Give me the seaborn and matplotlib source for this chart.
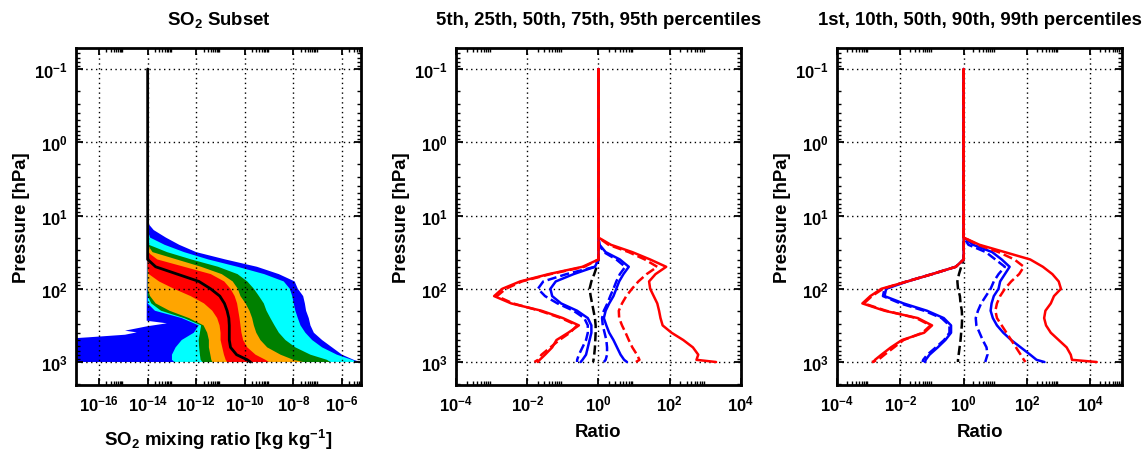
import numpy as np
import pandas as pd
import matplotlib
matplotlib.use("Agg")
import matplotlib.pyplot as plt
from matplotlib.ticker import FixedLocator, FuncFormatter
import seaborn as sns

# Pressure levels [hPa] shared by all profiles
plev = [0.1, 12.6, 15.8, 20.0, 25.1, 31.6, 39.8, 50.1, 63.1, 79.4, 100.0,
        125.9, 158.5, 199.5, 251.2, 316.2, 398.1, 501.2, 631.0, 794.3, 933.3, 1000.0]

# ---- SO2 subset: percentile envelopes, log10 of mixing ratio [kg/kg] ----
blue_hi = [-14.0, -14.0, -13.75, -13.25, -12.7, -12.0, -10.8, -9.5, -8.6, -7.95, -7.82,
           -7.60, -7.53, -7.48, -7.37, -7.30, -7.16, -6.82, -6.41, -6.0, -5.52, -5.25]
cyan_hi = [-14.0, -14.0, -14.0, -13.9, -13.3, -12.5, -11.5, -10.3, -9.2, -8.4, -8.15,
           -8.05, -7.99, -7.92, -7.82, -7.71, -7.51, -7.23, -6.82, -6.21, -5.59, -5.38]
green_hi = [-14.0, -14.0, -14.0, -14.0, -13.95, -13.2, -12.2, -11.1, -10.3, -9.9, -9.63,
            -9.42, -9.22, -9.11, -8.95, -8.78, -8.60, -8.33, -7.92, -7.30, -6.62, -6.48]
orange_hi = [-14.0, -14.0, -14.0, -14.0, -14.0, -13.8, -12.8, -11.8, -10.95, -10.5, -10.29,
             -10.18, -9.97, -9.81, -9.70, -9.63, -9.53, -9.36, -9.08, -8.53, -8.0, -7.6]
red_hi = [-14.0, -14.0, -14.0, -14.0, -14.0, -14.0, -13.6, -12.5, -11.4, -10.85, -10.59,
          -10.42, -10.32, -10.27, -10.22, -10.18, -10.14, -10.07, -9.90, -9.56, -9.15, -9.01]
so2_median = [-14.0, -14.0, -14.0, -14.0, -14.0, -14.0, -14.0, -13.67, -12.78, -11.89, -11.41,
              -11.03, -10.84, -10.73, -10.66, -10.64, -10.64, -10.64, -10.59, -10.34, -9.90, -9.77]
red_lo = [-14.0, -14.0, -14.0, -14.0, -14.0, -14.0, -14.0, -14.0, -13.95, -13.53, -12.92,
          -12.23, -11.68, -11.34, -11.14, -11.04, -11.0, -11.0, -10.93, -10.86, -10.79, -10.73]
orange_lo = [-14.0, -14.0, -14.0, -14.0, -14.0, -14.0, -14.0, -14.0, -14.0, -14.0, -14.0,
             -13.9, -13.67, -13.1, -12.3, -11.7, -11.55, -11.48, -11.48, -11.42, -11.38, -11.34]
green_lo = [-14.0, -14.0, -14.0, -14.0, -14.0, -14.0, -14.0, -14.0, -14.0, -14.0, -14.0,
            -14.0, -13.85, -13.45, -12.5, -11.8, -11.85, -11.9, -11.88, -11.85, -11.82, -11.75]
cyan_lo = [-14.0, -14.0, -14.0, -14.0, -14.0, -14.0, -14.0, -14.0, -14.0, -14.0, -14.0,
           -14.0, -14.0, -13.7, -12.6, -11.9, -12.1, -12.6, -12.85, -13.0, -13.0, -12.9]
# the outermost minimum has its own levels (sharp notch near 300 hPa)
blue_lo_p = [0.1, 273, 296, 326, 347, 373, 394, 424, 460, 485, 1000]
blue_lo = [-14.0, -14.04, -13.21, -14.04, -14.45, -14.93, -14.45, -14.93, -16.44, -17.5, -18.0]

# ---- 5th/25th/50th/75th/95th percentile ratios, log10 ----
a_p95 = [0, 0, 0, 0, 0.35, 0.95, 1.45, 1.9, 1.6, 1.42, 1.45, 1.55, 1.65, 1.7, 1.74, 1.8,
         2.05, 2.38, 2.65, 2.8, 2.75, 3.3]
a_p95_b = [0, 0, 0, 0, 0.28, 0.85, 1.3, 1.65, 1.35, 1.12, 0.94, 0.78, 0.66, 0.57, 0.58, 0.66,
           0.76, 0.85, 0.95, 1.08, 1.15, 1.05]
a_p75 = [0, 0, 0, 0, 0.03, 0.2, 0.6, 0.85, 0.7, 0.58, 0.5, 0.42, 0.3, 0.2, 0.15, 0.22,
         0.3, 0.42, 0.52, 0.62, 0.72, 0.8]
a_p75_b = [0, 0, 0, 0, 0.02, 0.15, 0.5, 0.75, 0.6, 0.5, 0.42, 0.33, 0.25, 0.15, 0.1, 0.12,
           0.17, 0.22, 0.24, 0.24, 0.2, 0.15]
a_p50_b = [0, 0, 0, 0, 0, 0, 0, -0.05, -0.12, -0.2, -0.25, -0.22, -0.18, -0.14, -0.1, -0.08,
           -0.08, -0.09, -0.1, -0.12, -0.14, -0.15]
a_p25 = [0, 0, 0, 0, 0, 0, 0, -0.1, -0.7, -1.2, -1.35, -1.3, -1.05, -0.6, -0.3, -0.2,
         -0.2, -0.25, -0.3, -0.35, -0.45, -0.5]
a_p25_b = [0, 0, 0, 0, 0, 0, 0, -0.1, -0.9, -1.55, -1.7, -1.5, -1.15, -0.7, -0.4, -0.3,
           -0.3, -0.35, -0.45, -0.55, -0.6, -0.6]
a_p05 = [0, 0, 0, 0, 0, 0, 0, -0.45, -1.4, -2.2, -2.7, -2.93, -2.45, -1.6, -1.0, -0.55,
         -0.85, -1.18, -1.3, -1.5, -1.65, -1.7]
a_p05_b = [0, 0, 0, 0, 0, 0, 0, -0.4, -1.35, -2.15, -2.6, -2.85, -2.4, -1.65, -1.05, -0.6,
           -0.8, -1.1, -1.35, -1.6, -1.7, -1.8]

# ---- 1st/10th/50th/90th/99th percentile ratios, log10 ----
b_p99 = [0, 0, 0, 0, 0.5, 1.3, 2.1, 2.5, 2.8, 3.0, 3.07, 2.85, 2.75, 2.58, 2.54, 2.6,
         2.75, 3.0, 3.25, 3.38, 3.42, 4.2]
b_p99_b = [0, 0, 0, 0, 0.45, 1.1, 1.6, 1.9, 1.75, 1.5, 1.3, 1.15, 1.05, 1.0, 1.05, 1.2,
           1.35, 1.5, 1.65, 1.8, 1.9, 1.95]
b_p90 = [0, 0, 0, 0, 0.3, 0.9, 1.2, 1.45, 1.3, 1.15, 1.1, 0.95, 0.88, 0.85, 0.92, 1.05,
         1.25, 1.5, 1.8, 2.1, 2.3, 2.55]
b_p90_b = [0, 0, 0, 0, 0.15, 0.7, 1.0, 1.3, 1.1, 0.95, 0.85, 0.7, 0.55, 0.45, 0.38, 0.4,
           0.5, 0.6, 0.72, 0.75, 0.7, 0.68]
b_p50_b = [0, 0, 0, 0, 0, 0, 0, -0.08, -0.15, -0.2, -0.18, -0.12, -0.1, -0.06, -0.05, -0.06,
           -0.08, -0.1, -0.13, -0.16, -0.18, -0.18]
b_p10 = [0, 0, 0, 0, 0, 0, 0, -0.25, -1.0, -1.78, -2.45, -2.5, -1.9, -1.16, -0.63, -0.4,
         -0.4, -0.58, -0.82, -1.08, -1.2, -1.22]
b_p10_b = [0, 0, 0, 0, 0, 0, 0, -0.25, -1.0, -1.8, -2.5, -2.55, -2.0, -1.25, -0.7, -0.45,
           -0.45, -0.62, -0.88, -1.15, -1.28, -1.3]
b_p01 = [0, 0, 0, 0, 0, 0, 0, -0.25, -1.0, -1.78, -2.6, -2.95, -3.2, -2.5, -1.45, -1.0,
         -1.25, -1.95, -2.3, -2.6, -2.8, -2.85]
b_p01_b = [0, 0, 0, 0, 0, 0, 0, -0.25, -1.0, -1.8, -2.55, -2.9, -3.15, -2.45, -1.5, -1.05,
           -1.3, -1.9, -2.2, -2.5, -2.7, -2.9]

titles = ["SO$_2$ Subset",
          "5th, 25th, 50th, 75th, 95th percentiles",
          "1st, 10th, 50th, 90th, 99th percentiles"]
xlabels = ["SO$_2$ mixing ratio [kg kg$^{-1}$]", "Ratio", "Ratio"]
ylabel = "Pressure [hPa]"

sns.set_theme(style="ticks")
plt.rcParams.update({
    "font.family": ["Liberation Sans", "DejaVu Sans"],
    "font.weight": "bold",
    "axes.labelweight": "bold",
    "axes.titleweight": "bold",
    "mathtext.fontset": "custom",
    "mathtext.rm": "Liberation Sans:bold",
    "mathtext.it": "Liberation Sans:bold",
    "mathtext.bf": "Liberation Sans:bold",
    "mathtext.sf": "Liberation Sans:bold",
    "axes.edgecolor": "black",
    "axes.linewidth": 2.0,
    "text.color": "black",
    "axes.labelcolor": "black",
    "xtick.color": "black",
    "ytick.color": "black",
})

fig = plt.figure(figsize=(11.46, 4.52), dpi=100)
lefts = [0.0663, 0.3979, 0.7304]
axes = [fig.add_axes([x0, 0.146, 0.2487, 0.7456]) for x0 in lefts]


def envelope(ax, p_lo, lo, p_hi, hi, color):
    xs = np.concatenate([10.0 ** np.asarray(hi), (10.0 ** np.asarray(lo))[::-1]])
    ys = np.concatenate([np.asarray(p_hi, float), np.asarray(p_lo, float)[::-1]])
    ax.fill(xs, ys, color=color, lw=0, zorder=2)


def profile(ax, logvals, color, ls="-", lw=1.8):
    df = pd.DataFrame({"value": 10.0 ** np.asarray(logvals, float), "pressure": plev})
    sns.lineplot(data=df, x="value", y="pressure", sort=False, estimator=None,
                 color=color, linestyle=ls, linewidth=lw, ax=ax, zorder=3)


def log_label(v, _pos):
    return rf"$10^{{{int(np.round(np.log10(v)))}}}$"


def style(ax, xexp, xlim, title, xlabel, xlabelpad):
    ax.set_xscale("log")
    ax.set_yscale("log")
    ax.set_xlim(*xlim)
    ax.set_ylim(2060, 0.0516)
    xmaj = [10.0 ** e for e in xexp]
    ax.xaxis.set_major_locator(FixedLocator(xmaj))
    ax.xaxis.set_minor_locator(FixedLocator([k * m for m in xmaj for k in range(2, 10)]))
    ymaj = [10.0 ** e for e in range(-2, 4)]
    ax.yaxis.set_major_locator(FixedLocator(ymaj))
    ax.yaxis.set_minor_locator(FixedLocator([k * m for m in ymaj for k in range(2, 10)]))
    ax.xaxis.set_major_formatter(FuncFormatter(log_label))
    ax.yaxis.set_major_formatter(FuncFormatter(log_label))
    ax.tick_params(which="both", direction="in", top=True, right=True,
                   labelsize=12, pad=6)
    ax.tick_params(which="major", length=5, width=1.3)
    ax.tick_params(which="minor", length=3, width=1.0)
    ax.grid(True, which="major", color="black", linestyle=(0, (1, 2.5)), linewidth=1.0)
    ax.set_axisbelow(False)
    for s in ax.spines.values():
        s.set_visible(True)
        s.set_linewidth(2.0)
        s.set_zorder(5)
    ax.set_title(title, fontsize=13.4, fontweight="bold", pad=17)
    ax.set_xlabel(xlabel, fontsize=13.4, fontweight="bold", labelpad=xlabelpad)
    ax.set_ylabel(ylabel, fontsize=13.4, fontweight="bold", labelpad=3)


# Panel 1: nested percentile envelopes and median
ax = axes[0]
envelope(ax, blue_lo_p, blue_lo, plev, blue_hi, "#0000ff")
envelope(ax, plev, cyan_lo, plev, cyan_hi, "#00ffff")
envelope(ax, plev, green_lo, plev, green_hi, "#008000")
envelope(ax, plev, orange_lo, plev, orange_hi, "#ffa500")
envelope(ax, plev, red_lo, plev, red_hi, "#ff0000")
profile(ax, so2_median, "black", lw=2.0)
style(ax, range(-16, -5, 2), (10 ** -16.95, 10 ** -5.22), titles[0], xlabels[0], 10)

# Panels 2 and 3: ratio profiles (solid and dashed pairs)
sets = [
    (a_p50_b, [(a_p25_b, a_p25), (a_p75_b, a_p75)], [(a_p05_b, a_p05), (a_p95_b, a_p95)]),
    (b_p50_b, [(b_p10_b, b_p10), (b_p90_b, b_p90)], [(b_p01_b, b_p01), (b_p99_b, b_p99)]),
]
for ax, (mid, inner, outer), xlim, k in zip(axes[1:], sets, [(1e-4, 1e4), (1e-4, 1e5)], [1, 2]):
    profile(ax, mid, "black", ls="--")
    for dashed, solid in inner:
        profile(ax, dashed, "blue", ls="--")
        profile(ax, solid, "blue")
    for dashed, solid in outer:
        profile(ax, dashed, "red", ls="--")
        profile(ax, solid, "red")
    style(ax, range(-4, 5, 2), xlim, titles[k], xlabels[k], 7)

fig.savefig("out.png", dpi=100, facecolor="white")
